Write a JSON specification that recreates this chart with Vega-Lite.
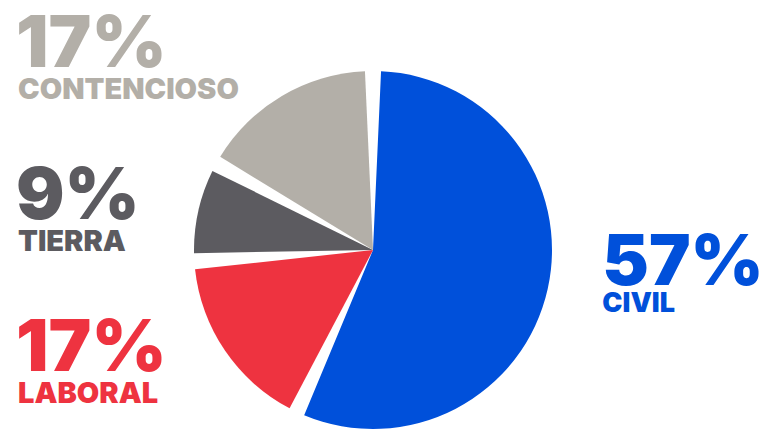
{
  "$schema": "https://vega.github.io/schema/vega-lite/v6.json",
  "width": 746,
  "height": 366,
  "autosize": {"type": "none"},
  "padding": {"left": 0, "top": 67, "right": 17, "bottom": 0},
  "background": "white",
  "config": {"view": {"stroke": null}, "text": {"font": "Inter", "fontWeight": 900}},
  "data": {"values": [
    {"categoria": "CIVIL", "valor": 0.57, "orden": 1},
    {"categoria": "LABORAL", "valor": 0.17, "orden": 2},
    {"categoria": "TIERRA", "valor": 0.09, "orden": 3},
    {"categoria": "CONTENCIOSO", "valor": 0.17, "orden": 4}
  ]},
  "encoding": {
    "color": {
      "field": "categoria",
      "type": "nominal",
      "scale": {
        "domain": ["CIVIL", "LABORAL", "TIERRA", "CONTENCIOSO"],
        "range": ["#0050DA", "#EE3340", "#5C5B60", "#B3AFA8"]
      },
      "legend": null
    }
  },
  "layer": [
    {
      "mark": {"type": "arc", "radius": 179, "padAngle": 0.09},
      "encoding": {
        "theta": {"field": "valor", "type": "quantitative", "stack": true},
        "order": {"field": "orden", "type": "quantitative"}
      }
    },
    {
      "mark": {"type": "text", "radius": 235, "align": "left", "baseline": "alphabetic", "dy": -16, "fontSize": 70},
      "encoding": {
        "theta": {"field": "valor", "type": "quantitative", "stack": true},
        "order": {"field": "orden", "type": "quantitative"},
        "text": {"condition": {"test": "datum.categoria === 'CIVIL'", "field": "valor", "type": "quantitative", "format": ".0%"}, "value": ""}
      }
    },
    {
      "mark": {"type": "text", "radius": 235, "align": "left", "baseline": "alphabetic", "dy": 11, "fontSize": 27},
      "encoding": {
        "theta": {"field": "valor", "type": "quantitative", "stack": true},
        "order": {"field": "orden", "type": "quantitative"},
        "text": {"condition": {"test": "datum.categoria === 'CIVIL'", "field": "categoria", "type": "nominal"}, "value": ""}
      }
    },
    {
      "transform": [{"filter": "datum.categoria !== 'CIVIL'"}],
      "mark": {"type": "text", "align": "left", "baseline": "alphabetic", "fontSize": 72},
      "encoding": {
        "y": {"field": "categoria", "type": "nominal", "scale": {"type": "point", "domain": ["CONTENCIOSO", "TIERRA", "LABORAL"], "range": [0, 304], "padding": 0}, "axis": null},
        "x": {"value": 16},
        "text": {"field": "valor", "type": "quantitative", "format": ".0%"}
      }
    },
    {
      "transform": [{"filter": "datum.categoria !== 'CIVIL'"}],
      "mark": {"type": "text", "align": "left", "baseline": "alphabetic", "dy": 32, "fontSize": 29},
      "encoding": {
        "y": {"field": "categoria", "type": "nominal", "scale": {"type": "point", "domain": ["CONTENCIOSO", "TIERRA", "LABORAL"], "range": [0, 304], "padding": 0}, "axis": null},
        "x": {"value": 18},
        "text": {"field": "categoria", "type": "nominal"}
      }
    }
  ]
}
